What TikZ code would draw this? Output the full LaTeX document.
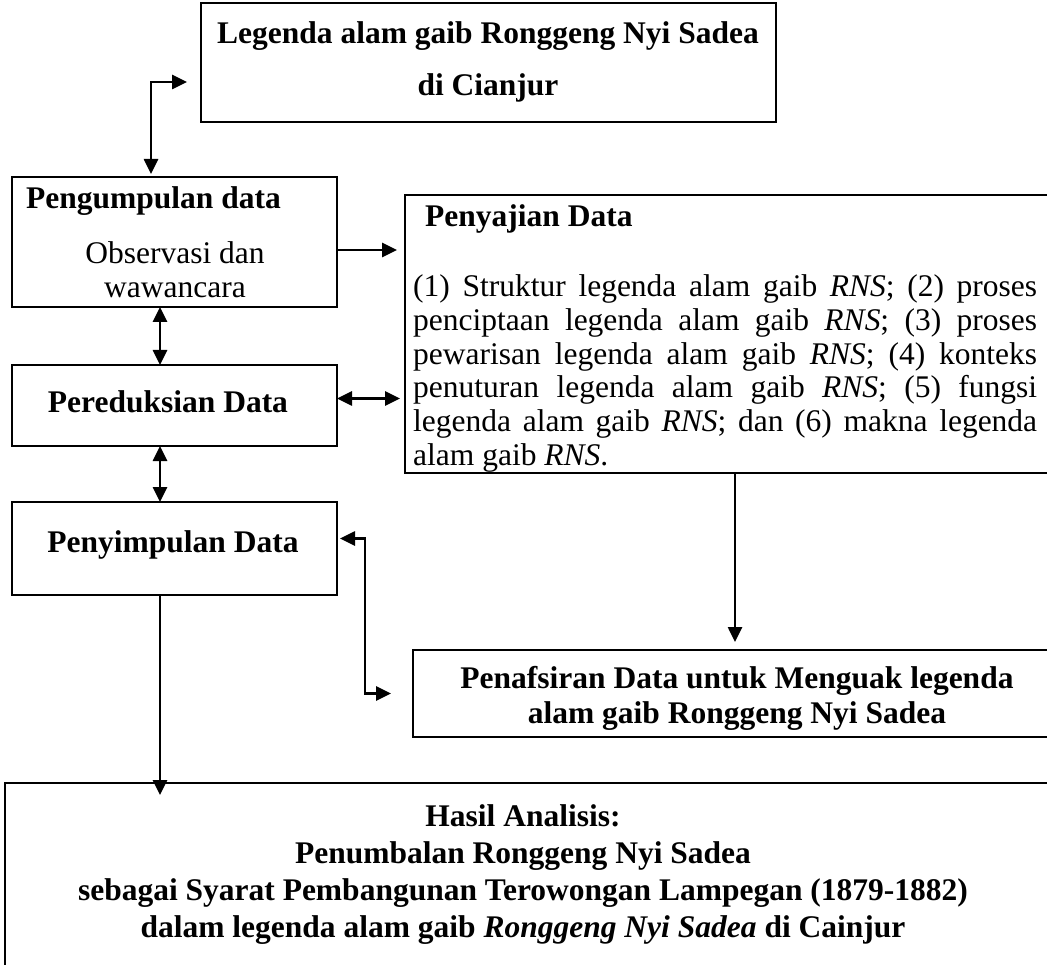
\documentclass[tikz,border=0pt]{standalone}
\usepackage{fontspec}
\setmainfont{Liberation Serif}
\usetikzlibrary{arrows.meta,positioning,calc}

\begin{document}
\begin{tikzpicture}[x=1pt,y=-1pt,>={Triangle[length=15pt,width=14pt]},
    kotak/.style={draw, line width=2.8pt, inner sep=0pt, outer sep=0pt, anchor=north west},
    teks/.style={inner sep=0pt, font=\fontsize{31.5}{34.4}\selectfont},
    panah/.style={line width=2.6pt}]
    \useasboundingbox (0,0) rectangle (1047,965);

    % Kotak
    \node[kotak, minimum width=575pt, minimum height=119pt] (legenda) at (201,3) {};
    \node[kotak, minimum width=325pt, minimum height=130pt] (kumpul) at (12,177) {};
    \node[kotak, minimum width=325pt, minimum height=81pt] (reduksi) at (12,365) {};
    \node[kotak, minimum width=325pt, minimum height=93pt] (simpul) at (12,502) {};
    \node[kotak, minimum width=645pt, minimum height=278pt] (sajian) at (405,195) {};
    \node[kotak, minimum width=637pt, minimum height=87pt] (tafsir) at (413,650) {};
    \node[kotak, minimum width=1045pt, minimum height=197pt] (hasil) at (5,783) {};

    % Teks
    \node[teks, align=center, font=\fontsize{31.5}{52}\selectfont\bfseries] (legendaisi) at (488,62) {Legenda alam gaib Ronggeng Nyi Sadea\\di Cianjur};
    \node[teks, anchor=base west] (kumpuljudul) at (26,209) {\textbf{Pengumpulan data}};
    \node[teks, anchor=north, align=center] (kumpulisi) at (175,241) {Observasi dan\\wawancara};
    \node[teks, font=\fontsize{31.5}{34.4}\selectfont\bfseries] (reduksiisi) at (168,402) {Pereduksian Data};
    \node[teks, font=\fontsize{31.5}{34.4}\selectfont\bfseries] (simpulisi) at (173,545) {Penyimpulan Data};
    \node[teks, anchor=base west] (sajianjudul) at (425,227) {\textbf{Penyajian Data}};
    \node[teks, anchor=north west, text width=624pt, align=justify, font=\fontsize{31.5}{33.8}\selectfont] (sajianisi) at (413,274.5) {(1) Struktur legenda alam gaib \textit{RNS}; (2) proses\linebreak penciptaan legenda alam gaib \textit{RNS}; (3) proses\linebreak pewarisan legenda alam gaib \textit{RNS}; (4) konteks\linebreak penuturan legenda alam gaib \textit{RNS}; (5) fungsi\linebreak legenda alam gaib \textit{RNS}; dan (6) makna legenda\linebreak alam gaib \textit{RNS}.};
    \node[teks, align=center, font=\fontsize{31.5}{35}\selectfont\bfseries] (tafsirisi) at (737,698) {Penafsiran Data untuk Menguak legenda\\alam gaib Ronggeng Nyi Sadea};
    \node[teks, align=center, font=\fontsize{31.5}{37}\selectfont\bfseries] (hasilisi) at (523,875) {Hasil Analisis:\\Penumbalan Ronggeng Nyi Sadea\\sebagai Syarat Pembangunan Terowongan Lampegan (1879-1882)\\dalam legenda alam gaib \textit{Ronggeng Nyi Sadea} di Cainjur};

    % Panah
    \coordinate (tekuk) at (151,82);
    \coordinate (tulang) at (160,0);
    \coordinate (siku) at (365,0);
    \coordinate (turun) at (735,0);
    \draw[panah, <->, shorten <=14pt, shorten >=3pt] (tekuk -| legenda.west) -- (tekuk) -- (tekuk |- kumpul.north);
    \draw[panah, ->, shorten >=8pt] ([yshift=-8pt]kumpul.east) -- ([yshift=-8pt]kumpul.east -| sajian.west);
    \draw[panah, <->] (tulang |- kumpul.south) -- (tulang |- reduksi.north);
    \draw[panah, <->, shorten >=5pt] ([yshift=7pt]reduksi.east) -- ([yshift=7pt]reduksi.east -| sajian.west);
    \draw[panah, <->] (tulang |- reduksi.south) -- (tulang |- simpul.north);
    \draw[panah, <->, shorten <=3pt, shorten >=22pt] ([yshift=10pt]simpul.east) -| (siku |- tafsir.west) -- (tafsir.west);
    \draw[panah, ->, shorten >=8pt] (turun |- sajian.south) -- (turun |- tafsir.north);
    \draw[panah, ->, shorten >=-12pt] (tulang |- simpul.south) -- (tulang |- hasil.north);
\end{tikzpicture}
\end{document}
